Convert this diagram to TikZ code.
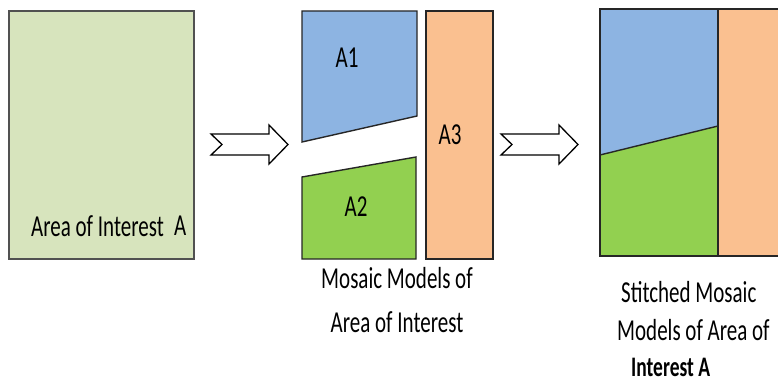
\documentclass[tikz,border=0pt]{standalone}
\usepackage{fontspec}
\setmainfont{Carlito}
\definecolor{aoigreen}{HTML}{D7E4BD}
\definecolor{mblue}{HTML}{8DB4E2}
\definecolor{mgreen}{HTML}{92D050}
\definecolor{morange}{HTML}{FAC090}
\definecolor{edge}{HTML}{262626}
\tikzset{
  region/.style={draw=edge, line width=1.4pt, line join=miter},
  fatarrow/.style={draw=black, fill=white, line width=1.3pt, line join=miter},
  lbl/.style={inner sep=0pt, font=\fontsize{21}{21}\selectfont},
}
\newcommand{\tallt}[1]{\scalebox{1}[1.45]{#1}}
\begin{document}
\begin{tikzpicture}[x=1pt,y=-1pt]
\useasboundingbox (0,0) rectangle (778,382);
% area of interest
\draw[region, draw=edge!80, fill=aoigreen] (9,11) rectangle (194,259);
\node[lbl, anchor=west] (aoi) at (31,226) {\tallt{Area of Interest}};
\node[lbl, anchor=west] (aoiA) at (174,226) {\tallt{A}};
% arrow 1
\draw[fatarrow] (211,134) -- (269,134) -- (269,125) -- (288,144.5) -- (269,164) -- (269,155) -- (211,155) -- (222,144.5) -- cycle;
% mosaic models
\draw[region, fill=mblue] (302,11) -- (417,11) -- (417,116) -- (302,142) -- cycle;
\draw[region, fill=mgreen] (302,177) -- (416,157) -- (416,259) -- (302,259) -- cycle;
\draw[region, fill=morange] (426,11) rectangle (493,259);
\node[lbl] (a1) at (347,58) {\tallt{A1}};
\node[lbl] (a2) at (356,207) {\tallt{A2}};
\node[lbl] (a3) at (450,135) {\tallt{A3}};
\node[lbl] (mm1) at (397,278) {\tallt{Mosaic Models of}};
\node[lbl] (mm2) at (397,322) {\tallt{Area of Interest}};
% arrow 2
\draw[fatarrow] (501,134) -- (559,134) -- (559,125) -- (578,144.5) -- (559,164) -- (559,155) -- (501,155) -- (512,144.5) -- cycle;
% stitched
\fill[mblue] (600,9) -- (718,9) -- (718,126) -- (600,155) -- cycle;
\fill[mgreen] (600,155) -- (718,126) -- (718,256) -- (600,256) -- cycle;
\fill[morange] (718,9) rectangle (780,256);
\draw[region] (780,9) -- (600,9) -- (600,256) -- (780,256);
\draw[region] (718,9) -- (718,256);
\draw[region] (600,155) -- (718,126);
\node[lbl, anchor=west] (st1) at (621,292) {\tallt{Stitched Mosaic}};
\node[lbl, anchor=west] (st2) at (617,330) {\tallt{Models of Area of}};
\node[lbl, anchor=west, font=\fontsize{19.5}{19.5}\selectfont] (st3) at (631,367) {\tallt{\bfseries Interest A}};
\end{tikzpicture}
\end{document}
